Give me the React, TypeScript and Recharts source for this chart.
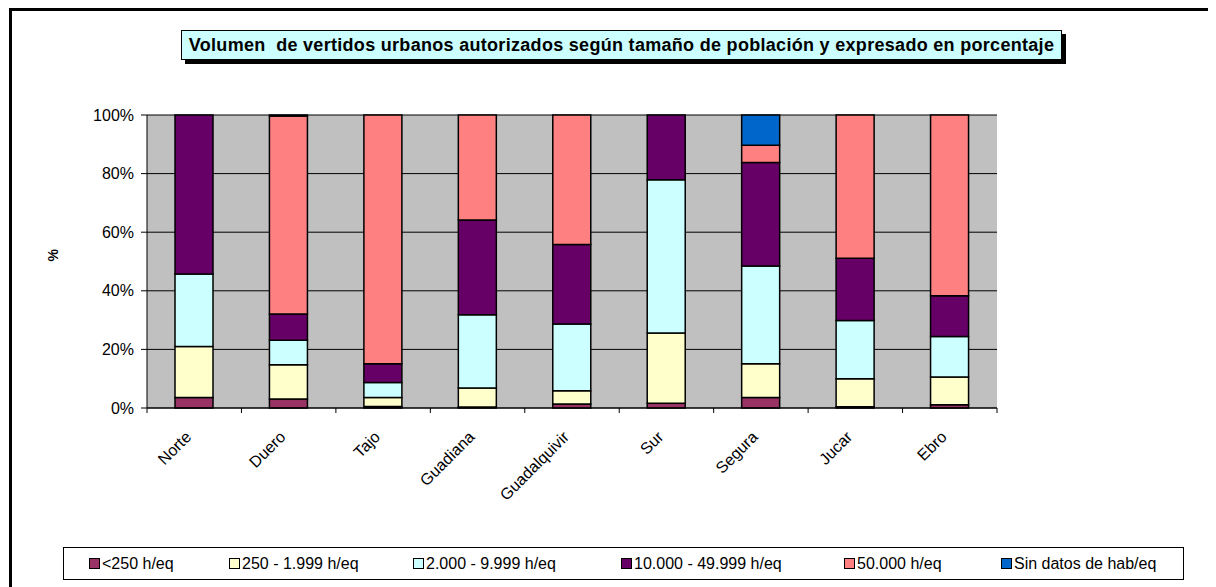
import React from 'react';
import { BarChart, Bar, XAxis, YAxis, CartesianGrid } from 'recharts';

// cuencas hidrográficas
const regions = ['Norte', 'Duero', 'Tajo', 'Guadiana', 'Guadalquivir', 'Sur', 'Segura', 'Jucar', 'Ebro'];

// % de volumen por tamaño de población
const menos250 = [3.6, 3.1, 0.5, 0.3, 1.4, 1.6, 3.6, 0.4, 1.1];
const de250 = [17.4, 11.7, 3.1, 6.5, 4.5, 24.0, 11.5, 9.6, 9.5];
const de2000 = [24.7, 8.3, 5.1, 25.0, 22.8, 52.3, 33.4, 19.9, 13.8];
const de10000 = [54.3, 9.0, 6.4, 32.4, 27.1, 22.1, 35.3, 21.2, 13.9];
const mas50000 = [0, 67.6, 84.9, 35.8, 44.2, 0, 5.9, 48.9, 61.7];
const sinDatos = [0, 0.3, 0, 0, 0, 0, 10.3, 0, 0];

const yTicks = [0, 20, 40, 60, 80, 100];

const series = [
  { key: 'menos250', name: '<250 h/eq', color: '#993366' },
  { key: 'de250', name: '250 - 1.999 h/eq', color: '#FFFFCC' },
  { key: 'de2000', name: '2.000 - 9.999 h/eq', color: '#CCFFFF' },
  { key: 'de10000', name: '10.000 - 49.999 h/eq', color: '#660066' },
  { key: 'mas50000', name: '50.000 h/eq', color: '#FF8080' },
  { key: 'sinDatos', name: 'Sin datos de hab/eq', color: '#0066CC' },
];

// posición horizontal de cada entrada de la leyenda
const legendLeft = [25, 165, 349, 557, 780, 937];

const data = regions.map((r, i) => ({
  name: r,
  menos250: menos250[i],
  de250: de250[i],
  de2000: de2000[i],
  de10000: de10000[i],
  mas50000: mas50000[i],
  sinDatos: sinDatos[i],
}));

const FONT = '"Liberation Sans", Arial, sans-serif';

// etiqueta inclinada + marcas de división entre categorías (estilo Excel)
const AngledTick = (props: any) => {
  const { x, y, payload, index, visibleTicksCount } = props;
  const half = payload && payload.offset ? payload.offset : 850 / 9 / 2;
  const isLast = index === visibleTicksCount - 1;
  return (
    <g>
      <line x1={x - half} x2={x - half} y1={y} y2={y + 5} stroke="#000" />
      {isLast && <line x1={x + half} x2={x + half} y1={y} y2={y + 5} stroke="#000" />}
      <g transform={`translate(${x - 6},${y + 26}) rotate(-45)`}>
        <text x={0} y={0} dy="0.35em" textAnchor="end" fontSize={16} fontFamily={FONT} fill="#000">
          {payload.value}
        </text>
      </g>
    </g>
  );
};

export default function App() {
  return (
    <div style={{ position: 'relative', width: 1208, height: 579, fontFamily: FONT, background: '#fff' }}>
      {/* marco exterior */}
      <div
        style={{
          position: 'absolute',
          left: 1,
          top: 0,
          width: 1207,
          height: 579,
          borderLeft: '3px solid #000',
          borderTop: '3px solid #000',
          boxSizing: 'border-box',
        }}
      />

      <BarChart
        width={1208}
        height={579}
        data={data}
        margin={{ top: 107, right: 219, left: 39, bottom: 119 }}
        style={{ position: 'absolute', left: 0, top: 0 }}
      >
        <CartesianGrid vertical={false} stroke="#000" fill="#C0C0C0" />
        <XAxis
          dataKey="name"
          height={60}
          interval={0}
          axisLine={{ stroke: '#000' }}
          tickLine={false}
          tickSize={0}
          tickMargin={0}
          tick={<AngledTick />}
        />
        <YAxis
          width={100}
          domain={[0, 100]}
          ticks={yTicks}
          tickFormatter={(v) => `${v}%`}
          axisLine={{ stroke: '#000' }}
          tickLine={{ stroke: '#000' }}
          tickSize={6}
          tickMargin={7}
          tick={{ fontSize: 16, fill: '#000', fontFamily: FONT }}
          label={{ value: '%', angle: -90, position: 'insideLeft', offset: 6, fontSize: 14, fontWeight: 'bold', fill: '#000', fontFamily: FONT }}
        />
        {series.map((s) => (
          <Bar
            key={s.key}
            dataKey={s.key}
            name={s.name}
            stackId="a"
            fill={s.color}
            stroke="#000"
            strokeWidth={1.5}
            barSize={38}
            isAnimationActive={false}
          />
        ))}
      </BarChart>

      {/* título */}
      <div
        style={{
          position: 'absolute',
          left: 173,
          top: 22,
          width: 881,
          height: 30,
          boxSizing: 'border-box',
          background: '#CCFFFF',
          border: '1px solid #000',
          boxShadow: '4px 4px 0 #000',
          fontWeight: 'bold',
          fontSize: 18,
          letterSpacing: 0.3,
          lineHeight: '28px',
          textAlign: 'center',
          whiteSpace: 'pre',
        }}
      >
        {'Volumen  de vertidos urbanos autorizados según tamaño de población y expresado en porcentaje'}
      </div>

      {/* leyenda */}
      <div
        style={{
          position: 'absolute',
          left: 55,
          top: 539,
          width: 1121,
          height: 33,
          boxSizing: 'border-box',
          border: '1px solid #000',
          fontSize: 16,
        }}
      >
        {series.map((s, i) => (
          <div
            key={s.key}
            style={{ position: 'absolute', left: legendLeft[i], top: 0, height: 31, display: 'flex', alignItems: 'center', gap: 2, whiteSpace: 'nowrap' }}
          >
            <span style={{ width: 9, height: 9, background: s.color, border: '1px solid #000', display: 'inline-block' }} />
            <span>{s.name}</span>
          </div>
        ))}
      </div>
    </div>
  );
}
